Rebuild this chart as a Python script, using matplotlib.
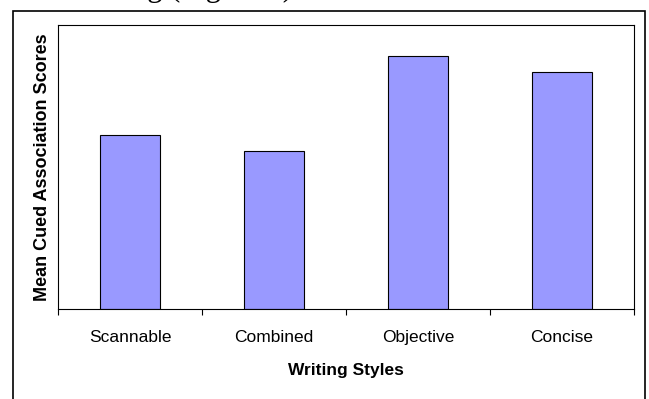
import matplotlib
matplotlib.use("Agg")
import matplotlib.pyplot as plt
from matplotlib.patches import Rectangle

# valores (eje sin escala numérica, se normaliza a 0..1)
styles = ["Scannable", "Combined", "Objective", "Concise"]
scores = [0.613, 0.556, 0.891, 0.835]

plt.rcParams["font.family"] = ["Liberation Sans", "DejaVu Sans"]

fig = plt.figure(figsize=(6.49, 3.99), dpi=100)
ax = fig.add_axes([58 / 649, 1 - 309 / 399, (634 - 58) / 649, (309 - 25) / 399])

pos = range(len(styles))
ax.bar(pos, scores, width=0.41, color="#9999FF", edgecolor="black", linewidth=0.8)

ax.set_xlim(-0.5, len(styles) - 0.5)
ax.set_ylim(0, 1)

# ticks en los límites entre categorías, etiquetas centradas
ax.set_xticks([i - 0.5 for i in range(len(styles) + 1)])
ax.set_xticklabels([])
ax.set_xticks(list(pos), minor=True)
ax.set_xticklabels(styles, minor=True, fontsize=12.5)
ax.tick_params(axis="x", which="major", direction="out", length=4.5, width=0.8)
ax.tick_params(axis="x", which="minor", length=0, pad=15)
ax.set_yticks([])

for s in ax.spines.values():
    s.set_linewidth(0.8)
    s.set_color("black")

ax.set_xlabel("Writing Styles", fontsize=12.5, fontweight="bold", labelpad=13)
ax.set_ylabel("Mean Cued Association Scores", fontsize=13, fontweight="bold", labelpad=5)

# marco exterior del gráfico (sigue por debajo del recorte)
fig.patches.append(Rectangle((13 / 649, -0.05), (645 - 13) / 649, 1.05 - 11 / 399,
                             transform=fig.transFigure, fill=False,
                             edgecolor="black", linewidth=1.2, clip_on=False))

# texto del documento, casi todo fuera del recorte superior
fig.text(212 / 649, 1 + 4 / 399, "ng (Figure 8)", family=["Liberation Serif", "DejaVu Serif"],
         fontsize=22, ha="center", va="baseline")

fig.savefig("out.png", dpi=100)
